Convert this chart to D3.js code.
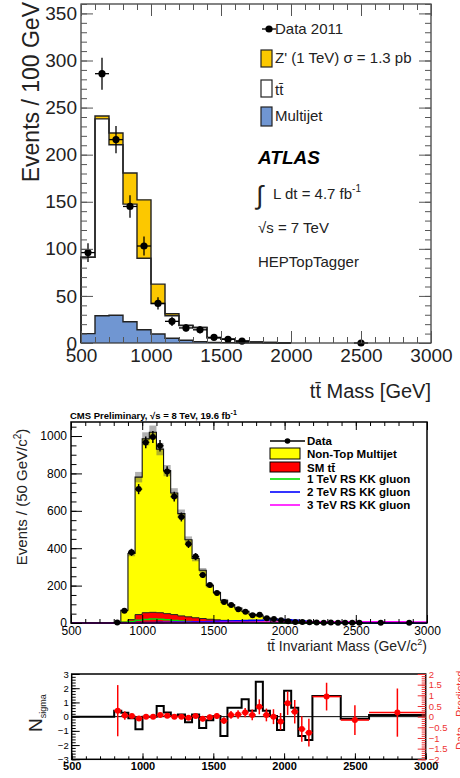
<!DOCTYPE html>
<html>
<head>
<meta charset="utf-8">
<script src="https://cdn.jsdelivr.net/npm/d3@7"></script>
<style>
  body { margin: 0; background: #fff; }
  svg { display: block; }
</style>
</head>
<body>
<svg id="chart" width="460" height="778"></svg>
<script>

// ---------- ATLAS panel, 100 GeV bins ----------
var atlasEdges    = [500, 600, 700, 800, 900, 1000, 1100, 1200, 1300, 1400, 1500, 1600, 1700, 1800, 1900, 2000];
var atlasMultijet = [10, 29, 29.5, 22.5, 14, 9.5, 5, 3, 1.5, 0.7, 0.4, 0.2, 0.1, 0.1, 0];
var atlasTtbar    = [81, 209, 181, 125, 76, 32.5, 24, 15.5, 15, 4.8, 3.6, 1.8, 0.9, 0.4, 0.3];
var atlasZprime   = [0, 3, 12.5, 33, 62, 20.5, 2, 0.3, 0, 0, 0, 0, 0, 0, 0];
var atlasDataX    = [550, 650, 750, 850, 950, 1050, 1150, 1250, 1350, 1450, 1550, 1650, 2500];
var atlasDataY    = [96, 286, 216, 145, 103, 42, 23, 16, 14, 6, 4, 2, 0];
var atlasDataErr  = [10, 17, 14.5, 12, 10, 6.5, 5, 4, 3.7, 2.4, 2, 1.4, 0];

// ---------- CMS panel, 50 GeV bins from 850 ----------
var cmsEdges    = d3.range(850, 3001, 50);
var cmsMultijet = [63, 354, 735, 930, 963, 875, 765, 650, 547, 412,
                   317, 258, 180, 146, 108, 85, 70, 54, 39, 32,
                   22, 17, 12, 8.5, 7, 5.5, 4.8, 4, 3.2, 2.7,
                   2.3, 1.9, 1.5, 1.5, 1.1, 1, 0.8, 0.7, 0.6, 0.5,
                   0.4, 0.4, 0.3];
var cmsTtbar    = [5, 18, 45, 55, 57, 55, 50, 45, 38, 33,
                   28, 24, 20, 17, 14, 12, 10, 8, 7, 6,
                   5, 4, 3, 2.5, 2, 1.5, 1.2, 1, 0.8, 0.7,
                   0.6, 0.5, 0.4, 0.4, 0.3, 0.3, 0.2, 0.2, 0.2, 0.1,
                   0.1, 0.1, 0.1];
var cmsUnc      = [3, 15, 28, 35, 36, 33, 30, 26, 22, 18,
                   15, 12, 10, 8, 7, 5, 4.5, 4, 3, 2.5,
                   2, 1.8, 1.5, 1.2, 1, 1, 0.8, 0.7, 0.6, 0.5,
                   0.5, 0.4, 0.4, 0.3, 0.3, 0.3, 0.2, 0.2, 0.2, 0.2,
                   0.1, 0.1, 0.1];
var cmsKK1      = [2, 8, 15, 19, 21, 20, 17, 13, 10, 8,
                   6, 5, 4, 3, 2.5, 2, 1.5, 1.2, 1, 0.8,
                   0.6, 0.5, 0.4, 0.3, 0.3, 0.2, 0.2, 0.1, 0.1, 0.1,
                   0.1, 0.1, 0, 0, 0, 0, 0, 0, 0, 0,
                   0, 0, 0];
var cmsKK2      = [0.5, 1, 2, 2.5, 3, 3.5, 4, 4.5, 5, 5.5,
                   6, 7, 8, 9, 10, 11, 12, 13, 14, 15,
                   16, 17, 18, 17, 14, 10, 7, 5, 4, 3,
                   2.5, 2, 1.5, 1.2, 1, 0.8, 0.6, 0.5, 0.4, 0.3,
                   0.2, 0.2, 0.1];
var cmsKK3      = [0.3, 0.5, 1, 1, 1.5, 1.5, 2, 2, 2, 2.5,
                   2.5, 3, 3, 3, 3.5, 3.5, 4, 4, 4, 4.5,
                   4.5, 5, 5, 5, 5.5, 5.5, 6, 6, 6, 6,
                   6.5, 6.5, 7, 7, 7, 7, 7, 6.5, 6.5, 6,
                   6, 5.5, 5.5];
var cmsDataX    = [825, 875, 925, 975, 1025, 1075, 1125, 1175, 1225, 1275,
                   1325, 1375, 1425, 1475, 1525, 1575, 1625, 1675, 1725, 1775,
                   1825, 1875, 1925, 1975, 2025, 2075, 2125, 2175, 2225, 2275,
                   2325, 2375, 2425, 2475, 2525, 2675, 2875];
var cmsDataY    = [3, 66, 378, 716, 966, 995, 948, 810, 676, 567,
                   422, 355, 257, 203, 160, 112, 96, 74, 60, 42,
                   44, 25, 22, 15, 10, 6, 5, 4, 3, 2,
                   3, 2, 2, 2, 1, 1, 1];
var cmsDataErr  = [1.7, 8, 19, 27, 31, 32, 31, 28, 26, 24,
                   21, 19, 16, 14, 13, 11, 10, 9, 8, 6.5,
                   6.6, 5, 4.7, 3.9, 3.2, 2.4, 2.2, 2, 1.7, 1.4,
                   1.7, 1.4, 1.4, 1.4, 1, 1, 1];

// ---------- N_sigma / ratio panel ----------
var nsigEdges  = [500, 800, 850, 900, 950, 1000, 1050, 1100, 1150, 1200, 1250, 1300, 1350, 1400, 1450, 1500,
                  1550, 1600, 1650, 1700, 1750, 1800, 1850, 1900, 1950, 2000, 2050, 2100, 2150, 2200, 2400, 2600, 3000];
var nsigValues = [0, 0.42, 0.28, -0.12, -0.89, 0, 0, 0.75, 0.3, 0.07, 0.15, -0.4, 0.15, -0.8, -0.25, 0.05,
                  -1.36, 0.63, 0.63, 1.22, 0.42, 2.45, 0.42, 0.05, -0.94, 1.83, 0.63, -1.36, -1.64, 1.45, -0.14, 0.12];
var diffX    = [825, 875, 925, 975, 1025, 1075, 1125, 1175, 1225, 1275, 1325, 1375, 1425, 1475, 1525, 1575,
                1625, 1675, 1725, 1775, 1825, 1875, 1925, 1975, 2025, 2075, 2125, 2175, 2300, 2500, 2800];
var diffHalf = [25, 25, 25, 25, 25, 25, 25, 25, 25, 25, 25, 25, 25, 25, 25, 25,
                25, 25, 25, 25, 25, 25, 25, 25, 25, 25, 25, 25, 100, 100, 200];
var diffY    = [0.28, 0.05, 0.03, -0.09, 0, 0, 0.08, 0.04, 0, 0, -0.05, 0.03, -0.1, -0.03, 0.03, -0.19,
                0.08, 0.1, 0.19, 0.08, 0.46, 0.08, 0, -0.23, 0.63, 0.23, -0.58, -0.75, 0.94, -0.16, 0.19];
var diffErr  = [1.2, 0.2, 0.1, 0.08, 0.06, 0.06, 0.07, 0.07, 0.08, 0.09, 0.1, 0.1, 0.12, 0.13, 0.14, 0.16,
                0.18, 0.2, 0.22, 0.25, 0.35, 0.3, 0.35, 0.4, 0.55, 0.55, 0.6, 0.65, 0.65, 0.7, 1.13];

var font = '"Liberation Sans", Arial, Helvetica, sans-serif';
var svg = d3.select('#chart');

function stepPath(edges, vals, x, y)
{
  var p = 'M' + x(edges[0]) + ',' + y(0);
  vals.forEach(function(v, i) {
    p += 'L' + x(edges[i]) + ',' + y(v) + 'L' + x(edges[i + 1]) + ',' + y(v);
  });
  return p + 'L' + x(edges[edges.length - 1]) + ',' + y(0);
}

function cumulate(a, b) { return a.map(function(v, i) { return v + b[i]; }); }

function ticks(g, axis, at, len, vals, color, fmt, size, weight, pad)
{
  var gg = g.append('g').attr('transform', at)
    .call(axis.tickValues(vals).tickSize(-len).tickSizeOuter(0).tickPadding(pad || 4)
              .tickFormat(fmt || ''));
  gg.select('.domain').remove();
  gg.selectAll('line').attr('stroke', color || '#000');
  gg.selectAll('text').attr('font-family', font).attr('font-size', size || 10)
    .attr('font-weight', weight || 'normal').attr('fill', color || '#000');
  return gg;
}

function text(g, x, y, s, size, opts)
{
  opts = opts || {};
  return g.append('text').attr('x', x).attr('y', y).text(s)
    .attr('font-family', font).attr('font-size', size)
    .attr('font-weight', opts.weight || 'normal').attr('font-style', opts.style || 'normal')
    .attr('text-anchor', opts.anchor || 'start').attr('fill', opts.fill || '#000');
}

// =============== ATLAS ===============
(function() {
  var x = d3.scaleLinear().domain([500, 3000]).range([81, 431]);
  var y = d3.scaleLinear().domain([0, 360]).range([343, 4]);
  var g = svg.append('g');

  var mj = atlasMultijet;
  var tt = cumulate(mj, atlasTtbar);
  var zp = cumulate(tt, atlasZprime);

  g.append('path').attr('d', stepPath(atlasEdges, zp, x, y) + 'Z').attr('fill', '#fcc800');
  g.append('path').attr('d', stepPath(atlasEdges, tt, x, y) + 'Z').attr('fill', '#fff');
  g.append('path').attr('d', stepPath(atlasEdges, mj, x, y) + 'Z').attr('fill', '#7096d2');
  [zp, tt, mj].forEach(function(s) {
    g.append('path').attr('d', stepPath(atlasEdges, s, x, y))
      .attr('fill', 'none').attr('stroke', '#222').attr('stroke-width', 1.4);
  });

  // data
  var d = g.append('g');
  atlasDataX.forEach(function(m, i) {
    var v = atlasDataY[i], e = atlasDataErr[i];
    d.append('line').attr('x1', x(m - 50)).attr('x2', x(m + 50)).attr('y1', y(v)).attr('y2', y(v))
      .attr('stroke', '#000').attr('stroke-width', 1.3);
    if (e > 0)
      d.append('line').attr('x1', x(m)).attr('x2', x(m)).attr('y1', y(v - e)).attr('y2', y(v + e))
        .attr('stroke', '#000').attr('stroke-width', 1.3);
    d.append('circle').attr('cx', x(m)).attr('cy', y(v)).attr('r', 3.6).attr('fill', '#000');
  });

  // frame and ticks
  g.append('rect').attr('x', 81).attr('y', 4).attr('width', 350).attr('height', 339)
    .attr('fill', 'none').attr('stroke', '#333').attr('stroke-width', 1.2);
  var col = '#555';
  ticks(g, d3.axisLeft(y), 'translate(81,0)', 6, d3.range(0, 361, 10), col);
  ticks(g, d3.axisLeft(y), 'translate(81,0)', 12, d3.range(0, 351, 50), col, d3.format('d'), 19, 'normal', 4)
    .selectAll('text').attr('fill', '#222');
  ticks(g, d3.axisRight(y), 'translate(431,0)', 6, d3.range(0, 361, 10), col);
  ticks(g, d3.axisRight(y), 'translate(431,0)', 12, d3.range(0, 351, 50), col);
  ticks(g, d3.axisBottom(x), 'translate(0,343)', 6, d3.range(500, 3001, 100), col);
  ticks(g, d3.axisBottom(x), 'translate(0,343)', 12, d3.range(500, 3001, 500), col, d3.format('d'), 19, 'normal', 6)
    .selectAll('text').attr('fill', '#222');
  ticks(g, d3.axisTop(x), 'translate(0,4)', 6, d3.range(500, 3001, 100), col);
  ticks(g, d3.axisTop(x), 'translate(0,4)', 12, d3.range(500, 3001, 500), col);

  // titles
  text(g, 0, 0, 'Events / 100 GeV', 23, {anchor: 'end', fill: '#222'})
    .attr('transform', 'translate(39,2) rotate(-90)');
  text(g, 431, 398, 't\u0074\u0304 Mass [GeV]', 20, {anchor: 'end', fill: '#222'});

  // legend
  var lg = g.append('g');
  lg.append('line').attr('x1', 262).attr('x2', 276).attr('y1', 29).attr('y2', 29).attr('stroke', '#000').attr('stroke-width', 1.3);
  lg.append('circle').attr('cx', 269).attr('cy', 29).attr('r', 3.6).attr('fill', '#000');
  text(lg, 275, 34, 'Data 2011', 15, {fill: '#222'});
  lg.append('rect').attr('x', 261).attr('y', 50).attr('width', 11).attr('height', 17)
    .attr('fill', '#fcc800').attr('stroke', '#222').attr('stroke-width', 1.2);
  text(lg, 275, 63, "Z' (1 TeV) \u03c3 = 1.3 pb", 15, {fill: '#222'});
  lg.append('rect').attr('x', 261).attr('y', 80).attr('width', 11).attr('height', 17)
    .attr('fill', '#fff').attr('stroke', '#222').attr('stroke-width', 1.2);
  text(lg, 275, 95, 't\u0074\u0304', 15, {fill: '#222'});
  lg.append('rect').attr('x', 261).attr('y', 107).attr('width', 11).attr('height', 19)
    .attr('fill', '#7096d2').attr('stroke', '#222').attr('stroke-width', 1.2);
  text(lg, 275, 121, 'Multijet', 15, {fill: '#222'});

  text(lg, 258, 164, 'ATLAS', 19, {weight: 'bold', style: 'italic'});
  text(lg, 256, 204, '\u222b', 26, {fill: '#222'});
  var t = text(lg, 273, 199, 'L dt = 4.7 fb', 15, {fill: '#222'});
  t.append('tspan').attr('font-size', 10).attr('dy', -7).text('-1');
  text(lg, 258, 233, '\u221as = 7 TeV', 15, {fill: '#222'});
  text(lg, 258, 267, 'HEPTopTagger', 15, {fill: '#222'});
})();

// =============== CMS ===============
(function() {
  var x = d3.scaleLinear().domain([500, 3000]).range([71, 427]);
  var y = d3.scaleLinear().domain([0, 1075]).range([623, 422]);
  var g = svg.append('g');

  var red = cmsTtbar;
  var tot = cumulate(cmsTtbar, cmsMultijet);

  g.append('path').attr('d', stepPath(cmsEdges, tot, x, y) + 'Z').attr('fill', '#ffff00');
  g.append('path').attr('d', stepPath(cmsEdges, red, x, y) + 'Z').attr('fill', '#ff0000');
  g.append('path').attr('d', stepPath(cmsEdges, red, x, y))
    .attr('fill', 'none').attr('stroke', '#222').attr('stroke-width', 1);

  // uncertainty band
  g.append('g').selectAll('rect').data(tot).enter().append('rect')
    .attr('x', function(v, i) { return x(cmsEdges[i]); })
    .attr('width', function(v, i) { return x(cmsEdges[i + 1]) - x(cmsEdges[i]); })
    .attr('y', function(v, i) { return y(v + cmsUnc[i]); })
    .attr('height', function(v, i) { return y(v - cmsUnc[i]) - y(v + cmsUnc[i]); })
    .attr('fill', '#555').attr('fill-opacity', 0.45);

  g.append('path').attr('d', stepPath(cmsEdges, tot, x, y))
    .attr('fill', 'none').attr('stroke', '#111').attr('stroke-width', 1.1);

  // signal lines, zero below 850
  [[cmsKK1, '#00e000'], [cmsKK2, '#0000ff'], [cmsKK3, '#ff00ff']].forEach(function(s) {
    g.append('path').attr('d', 'M' + x(500) + ',' + y(0) + stepPath(cmsEdges, s[0], x, y).replace('M', 'L'))
      .attr('fill', 'none').attr('stroke', s[1]).attr('stroke-width', 1.6);
  });

  // data
  var d = g.append('g');
  cmsDataX.forEach(function(m, i) {
    var v = cmsDataY[i], e = cmsDataErr[i];
    d.append('line').attr('x1', x(m - 25)).attr('x2', x(m + 25)).attr('y1', y(v)).attr('y2', y(v))
      .attr('stroke', '#000').attr('stroke-width', 1.3);
    d.append('line').attr('x1', x(m)).attr('x2', x(m)).attr('y1', y(v - e)).attr('y2', y(v + e))
      .attr('stroke', '#000').attr('stroke-width', 1.5);
    d.append('circle').attr('cx', x(m)).attr('cy', y(v)).attr('r', 3).attr('fill', '#000');
  });

  // frame and ticks
  g.append('rect').attr('x', 71).attr('y', 422).attr('width', 356).attr('height', 201)
    .attr('fill', 'none').attr('stroke', '#000').attr('stroke-width', 1.5);
  ticks(g, d3.axisLeft(y), 'translate(71,0)', 5.5, d3.range(0, 1076, 50));
  ticks(g, d3.axisLeft(y), 'translate(71,0)', 11, d3.range(0, 1001, 200), '#000', d3.format('d'), 12, 'normal', 4);
  ticks(g, d3.axisBottom(x), 'translate(0,623)', 4, d3.range(500, 3001, 100));
  ticks(g, d3.axisBottom(x), 'translate(0,623)', 8, d3.range(500, 3001, 500), '#000', d3.format('d'), 12, 'normal', 3);
  ticks(g, d3.axisTop(x), 'translate(0,422)', 4, d3.range(500, 3001, 100));
  ticks(g, d3.axisTop(x), 'translate(0,422)', 8, d3.range(500, 3001, 500));

  var t = text(g, 70, 419, 'CMS Preliminary, \u221as = 8 TeV, 19.6 fb', 9.5, {weight: 'bold'});
  t.append('tspan').attr('font-size', 7).attr('dy', -4).text('-1');

  var yt = text(g, 0, 0, 'Events / (50 GeV/c', 15, {anchor: 'middle', fill: '#222'})
    .attr('transform', 'translate(27,497) rotate(-90)');
  yt.append('tspan').attr('font-size', 10).attr('dy', -6).text('2');
  yt.append('tspan').attr('dy', 6).text(')');

  var xt = text(g, 427, 651, 't\u0074\u0304 Invariant Mass (GeV/c', 14, {anchor: 'end', fill: '#222'});
  xt.append('tspan').attr('font-size', 9).attr('dy', -6).text('2');
  xt.append('tspan').attr('dy', 6).text(')');

  // legend
  var lg = g.append('g');
  lg.append('line').attr('x1', 270).attr('x2', 305).attr('y1', 441).attr('y2', 441).attr('stroke', '#000').attr('stroke-width', 1.3);
  lg.append('circle').attr('cx', 287.5).attr('cy', 441).attr('r', 2.8).attr('fill', '#000');
  text(lg, 307, 445, 'Data', 11.5, {weight: 'bold'});
  lg.append('rect').attr('x', 270).attr('y', 448).attr('width', 30).attr('height', 11)
    .attr('fill', '#ffff00').attr('stroke', '#000').attr('stroke-width', 1);
  text(lg, 307, 458, 'Non-Top Multijet', 11.5, {weight: 'bold'});
  lg.append('rect').attr('x', 270).attr('y', 462).attr('width', 30).attr('height', 10)
    .attr('fill', '#ff0000').attr('stroke', '#000').attr('stroke-width', 1);
  text(lg, 307, 472, 'SM t\u0074\u0304', 11.5, {weight: 'bold'});
  [['1 TeV RS KK gluon', '#00e000', 479], ['2 TeV RS KK gluon', '#0000ff', 492], ['3 TeV RS KK gluon', '#ff00ff', 505]]
    .forEach(function(r) {
      lg.append('line').attr('x1', 270).attr('x2', 300).attr('y1', r[2]).attr('y2', r[2])
        .attr('stroke', r[1]).attr('stroke-width', 1.6);
      text(lg, 307, r[2] + 4, r[0], 11.5, {weight: 'bold'});
    });
})();

// =============== N_sigma ===============
(function() {
  var x = d3.scaleLinear().domain([500, 3000]).range([71.7, 425.7]);
  var y = d3.scaleLinear().domain([-3, 3]).range([759.3, 674]);
  var y2 = d3.scaleLinear().domain([-2, 2]).range([759.3, 674]);
  var g = svg.append('g');

  g.append('line').attr('x1', x(500)).attr('x2', x(3000)).attr('y1', y(0)).attr('y2', y(0))
    .attr('stroke', '#000').attr('stroke-width', 1);

  var p = 'M' + x(nsigEdges[0]) + ',' + y(nsigValues[0]);
  nsigValues.forEach(function(v, i) {
    p += 'L' + x(nsigEdges[i]) + ',' + y(v) + 'L' + x(nsigEdges[i + 1]) + ',' + y(v);
  });
  g.append('path').attr('d', p).attr('fill', 'none').attr('stroke', '#000').attr('stroke-width', 2);

  var d = g.append('g');
  diffX.forEach(function(m, i) {
    var v = diffY[i], e = diffErr[i], h = diffHalf[i];
    d.append('line').attr('x1', x(m - h)).attr('x2', x(m + h)).attr('y1', y2(v)).attr('y2', y2(v))
      .attr('stroke', '#ff0000').attr('stroke-width', 1.5);
    d.append('line').attr('x1', x(m)).attr('x2', x(m)).attr('y1', y2(v - e)).attr('y2', y2(v + e))
      .attr('stroke', '#ff0000').attr('stroke-width', 1.5);
    d.append('circle').attr('cx', x(m)).attr('cy', y2(v)).attr('r', 3).attr('fill', '#ff0000');
  });

  g.append('rect').attr('x', 71.7).attr('y', 674).attr('width', 354).attr('height', 85.3)
    .attr('fill', 'none').attr('stroke', '#000').attr('stroke-width', 1.5);
  ticks(g, d3.axisLeft(y), 'translate(71.7,0)', 4, d3.range(-3, 3.01, 0.2));
  ticks(g, d3.axisLeft(y), 'translate(71.7,0)', 8, d3.range(-3, 3.01, 1), '#000', d3.format('d'), 9.5, 'normal', 3);
  ticks(g, d3.axisRight(y2), 'translate(425.7,0)', 4, d3.range(-2, 2.01, 0.1), '#e33');
  ticks(g, d3.axisRight(y2), 'translate(425.7,0)', 8, d3.range(-2, 2.01, 0.5), '#e33', d3.format('~g'), 9.5, 'normal', 3);
  ticks(g, d3.axisBottom(x), 'translate(0,759.3)', 3, d3.range(500, 3001, 100));
  ticks(g, d3.axisBottom(x), 'translate(0,759.3)', 6, d3.range(500, 3001, 500), '#000', d3.format('d'), 11, 'bold', 3);

  var nt = text(g, 0, 0, 'N', 19, {fill: '#222'}).attr('transform', 'translate(42,732) rotate(-90)');
  nt.append('tspan').attr('font-size', 9).attr('dy', 4).text('sigma');

  text(g, 0, 0, 'Data - Predicted', 11, {fill: '#e33'}).attr('transform', 'translate(464,750) rotate(-90)');
})();

</script>
</body>
</html>
